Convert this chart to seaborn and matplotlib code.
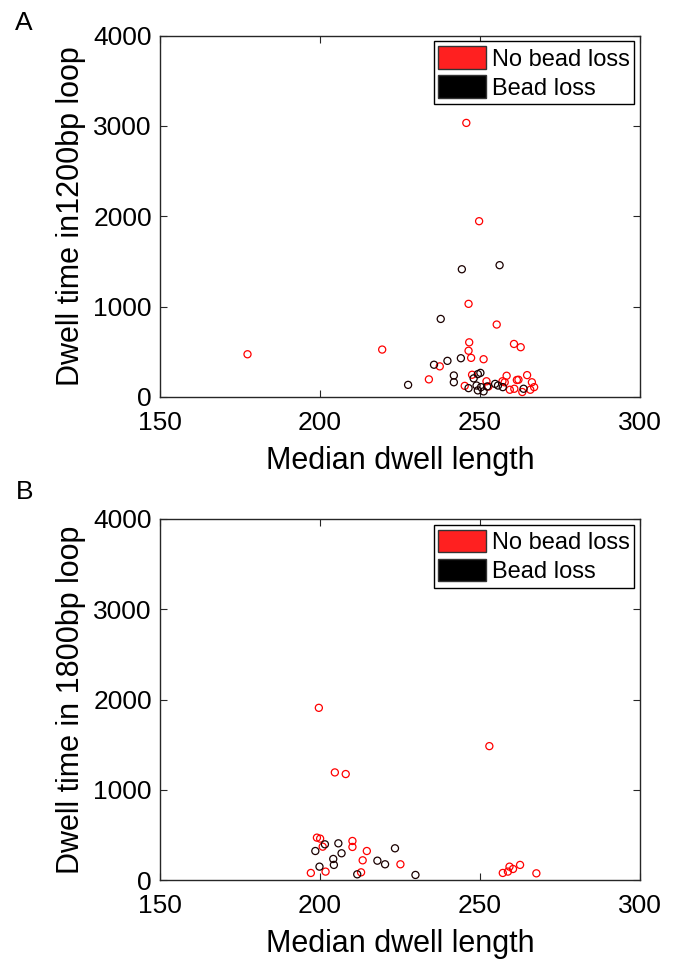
import numpy as np
import pandas as pd
import matplotlib
matplotlib.use('Agg')
import matplotlib.pyplot as plt
from matplotlib.patches import Patch
import seaborn as sns

# ---- data ----
# panel A: 1200bp loop
a_red_x = [245.7, 249.7, 246.4, 255.2, 246.6, 246.4, 247.2, 251.1, 260.6, 262.7,
           177.3, 219.4, 237.4, 234.0, 247.5, 245.2, 252.0, 252.6, 257.0, 258.3,
           257.7, 259.3, 260.7, 261.5, 263.2, 264.7, 266.2, 265.7, 266.9, 262.0]
a_red_y = [3033, 1945, 1030, 801, 604, 511, 432, 417, 586, 550,
           472, 524, 338, 194, 245, 122, 173, 115, 173, 234,
           162, 79, 90, 187, 54, 241, 162, 79, 108, 190]
a_blk_x = [244.3, 256.1, 237.7, 227.5, 235.6, 239.8, 244.0, 241.8, 241.8, 246.4,
           248.0, 249.3, 250.1, 248.9, 249.3, 251.1, 250.3, 252.2, 254.7, 255.6,
           257.1, 263.6]
a_blk_y = [1413, 1458, 863, 133, 356, 399, 428, 237, 162, 97,
           205, 252, 266, 126, 72, 61, 108, 115, 144, 126,
           108, 90]

# panel B: 1800bp loop
b_red_x = [199.6, 252.9, 204.6, 208.0, 199.0, 200.0, 200.8, 210.1, 210.1, 214.6,
           213.3, 225.1, 197.1, 201.7, 212.8, 257.1, 258.7, 259.2, 260.3, 262.5,
           267.6]
b_red_y = [1909, 1485, 1194, 1176, 472, 461, 372, 435, 369, 324,
           221, 177, 81, 96, 88, 81, 96, 151, 125, 170,
           77]
b_blk_x = [198.5, 201.5, 205.7, 206.7, 204.1, 204.3, 199.8, 211.6, 217.9, 220.3,
           223.4, 229.8]
b_blk_y = [324, 398, 409, 299, 236, 170, 151, 66, 217, 177,
           354, 59]

groups = ['No bead loss', 'Bead loss']
colors = ['#ff0000', '#1a0000']
ylabels = ['Dwell time in1200bp loop', 'Dwell time in 1800bp loop']

sns.set_style('ticks')
plt.rcParams['font.family'] = ['Liberation Sans', 'DejaVu Sans']
plt.rcParams['text.color'] = 'black'
plt.rcParams['axes.labelcolor'] = 'black'

fig = plt.figure(figsize=(6.73, 9.61), dpi=100)
ax_a = fig.add_axes([0.238, 0.587, 0.713, 0.376])
ax_b = fig.add_axes([0.238, 0.084, 0.713, 0.376])

panels = [
    (ax_a, a_red_x, a_red_y, a_blk_x, a_blk_y),
    (ax_b, b_red_x, b_red_y, b_blk_x, b_blk_y),
]

for i, (ax, rx, ry, kx, ky) in enumerate(panels):
    df = pd.concat([
        pd.DataFrame({'x': rx, 'y': ry, 'g': groups[0]}),
        pd.DataFrame({'x': kx, 'y': ky, 'g': groups[1]}),
    ], ignore_index=True)
    for g, c in zip(groups, colors):
        sub = df[df['g'] == g]
        sns.scatterplot(data=sub, x='x', y='y', ax=ax, marker='o', s=26,
                        color=c, facecolor='none', edgecolor=c, linewidth=0.9,
                        legend=False)
    ax.set_xlim(150, 300)
    ax.set_ylim(0, 4000)
    ax.set_xticks([150, 200, 250, 300])
    ax.set_yticks([0, 1000, 2000, 3000, 4000])
    ax.tick_params(direction='in', top=True, right=True, labelsize=19,
                   length=5, width=0.8, pad=6, colors='#262626', labelcolor='black')
    ax.tick_params(axis='x', pad=10)
    for sp in ax.spines.values():
        sp.set_visible(True)
        sp.set_linewidth(1.0)
        sp.set_color('#262626')
    ax.set_xlabel('Median dwell length', fontsize=22, labelpad=8)
    ax.set_ylabel(ylabels[i], fontsize=22, labelpad=5)
    handles = [Patch(facecolor=fc, edgecolor='#333333', label=g)
               for g, fc in zip(groups, ['#ff2020', '#000000'])]
    leg = ax.legend(handles=handles, loc='upper right', fontsize=17,
                    frameon=True, fancybox=False, framealpha=1,
                    edgecolor='black', handlelength=2.0, handleheight=1.1,
                    handletextpad=0.25, labelspacing=0.2, borderpad=0.2,
                    borderaxespad=0.25)
    leg.get_frame().set_linewidth(1.0)

fig.text(0.036, 0.976, 'A', fontsize=19, va='center', ha='center')
fig.text(0.036, 0.488, 'B', fontsize=19, va='center', ha='center')

fig.savefig('out.png', dpi=100)
